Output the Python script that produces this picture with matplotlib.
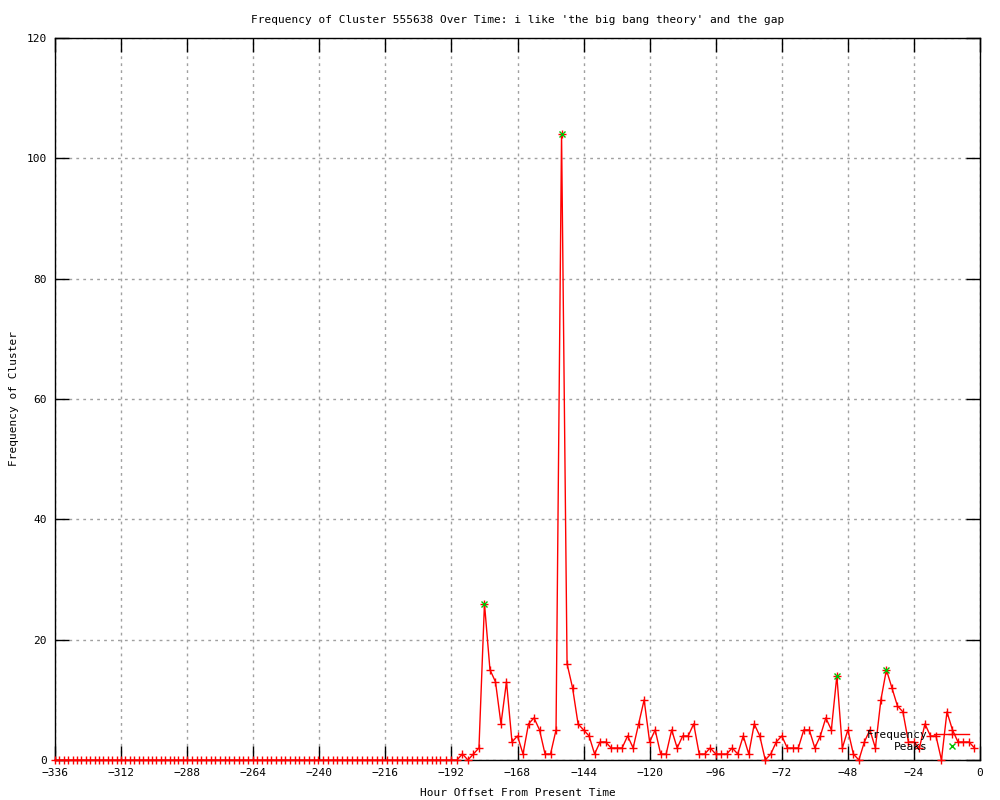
import matplotlib
matplotlib.use('Agg')
import matplotlib.pyplot as plt

# hours with no activity (denser sampling before the cluster appears)
zero_hours = [-336.0, -334.4, -332.8, -331.2, -329.6, -328.0, -326.4, -324.8, -323.2,
              -321.6, -320.0, -318.4, -316.8, -315.2, -313.6, -312.0, -310.4, -308.8,
              -307.2, -305.6, -304.0, -302.4, -300.8, -299.2, -297.6, -296.0, -294.4,
              -292.8, -291.2, -289.6, -288.0, -286.3, -284.6, -282.9, -281.2, -279.5,
              -277.8, -276.1, -274.4, -272.7, -271.0, -269.3, -267.6, -265.9, -264.2,
              -262.5, -260.8, -259.1, -257.4, -255.7, -254.0, -252.3, -250.6, -248.9,
              -247.2, -245.5, -243.8, -242.1, -240.4, -238.7, -237.0, -235.2, -233.4,
              -231.6, -229.8, -228.0, -226.2, -224.4, -222.6, -220.8, -219.0, -217.2,
              -215.4, -213.6, -211.8, -210.0, -208.2, -206.4, -204.6, -202.8, -201.0,
              -199.2, -197.6]
zero_counts = [0] * len(zero_hours)

hours = [-196, -194, -192, -190, -188, -186, -184, -182, -180, -178,
         -176, -174, -172, -170, -168, -166, -164, -162, -160, -158,
         -156, -154, -152, -150, -148, -146, -144, -142, -140, -138,
         -136, -134, -132, -130, -128, -126, -124, -122, -120, -118,
         -116, -114, -112, -110, -108, -106, -104, -102, -100, -98,
         -96, -94, -92, -90, -88, -86, -84, -82, -80, -78,
         -76, -74, -72, -70, -68, -66, -64, -62, -60, -58,
         -56, -54, -52, -50, -48, -46, -44, -42, -40, -38,
         -36, -34, -32, -30, -28, -26, -24, -22, -20, -18,
         -16, -14, -12, -10, -8, -6, -4, -2]
counts = [0, 0, 0, 0, 1, 0, 1, 2, 26, 15,
          13, 6, 13, 3, 4, 1, 6, 7, 5, 1,
          1, 5, 104, 16, 12, 6, 5, 4, 1, 3,
          3, 2, 2, 2, 4, 2, 6, 10, 3, 5,
          1, 1, 5, 2, 4, 4, 6, 1, 1, 2,
          1, 1, 1, 2, 1, 4, 1, 6, 4, 0,
          1, 3, 4, 2, 2, 2, 5, 5, 2, 4,
          7, 5, 14, 2, 5, 1, 0, 3, 5, 2,
          10, 15, 12, 9, 8, 3, 3, 2, 6, 4,
          4, 0, 8, 5, 3, 3, 3, 2]

peak_hours = [-180, -152, -52, -34]
peak_counts = [26, 104, 14, 15]

all_hours = zero_hours + hours
all_counts = zero_counts + counts

mono = 'DejaVu Sans Mono'
plt.rcParams['font.family'] = mono
plt.rcParams['font.size'] = 8

fig = plt.figure(figsize=(10, 8), dpi=100)
ax = fig.add_axes([0.055, 0.05, 0.925, 0.9025])

ax.plot(all_hours, all_counts, color='#ff0000', lw=1, marker='+', ms=5.5, mew=1,
        label='Frequency', clip_on=False, zorder=3)
ax.plot(peak_hours, peak_counts, ls='none', color='#00c000', marker='x', ms=5, mew=1,
        label='Peaks', clip_on=False, zorder=4)

ax.set_xlim(-336, 0)
ax.set_ylim(0, 120)
ax.set_xticks(range(-336, 1, 24))
ax.set_yticks(range(0, 121, 20))
ax.grid(True, color='#a0a0a0', ls=(0, (2, 3)), lw=1)
ax.tick_params(direction='in', length=10, width=1, top=True, right=True,
               labelsize=8, pad=6)
for s in ax.spines.values():
    s.set_linewidth(1)

ax.set_title("Frequency of Cluster 555638 Over Time: i like 'the big bang theory' and the gap",
             fontsize=8, pad=11)
ax.set_xlabel('Hour Offset From Present Time', fontsize=8, labelpad=7)
ax.set_ylabel('Frequency of Cluster', fontsize=8)
ax.yaxis.set_label_coords(-0.039, 0.5)

ax.legend(loc='lower right', bbox_to_anchor=(0.997, 0.0), markerfirst=False,
          frameon=False, fontsize=8, handlelength=3.2, handletextpad=0.6,
          labelspacing=0.2, borderaxespad=0.3)

fig.savefig('out.png', dpi=100)
